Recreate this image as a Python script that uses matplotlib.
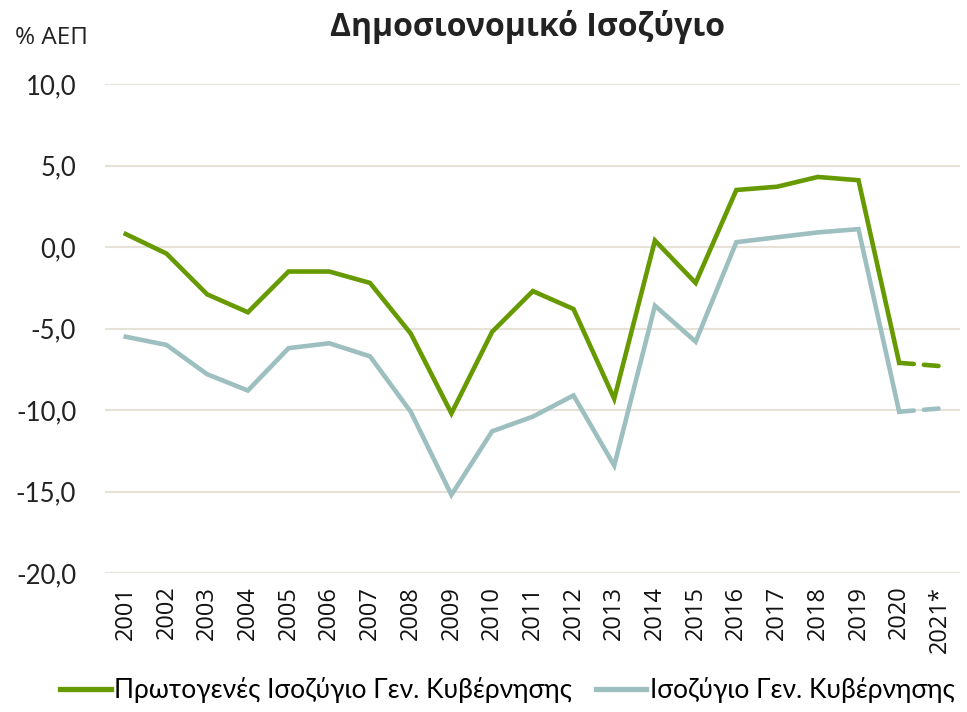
import matplotlib
matplotlib.use("Agg")
import matplotlib.pyplot as plt
from matplotlib.lines import Line2D

years = ["2001", "2002", "2003", "2004", "2005", "2006", "2007", "2008", "2009", "2010",
         "2011", "2012", "2013", "2014", "2015", "2016", "2017", "2018", "2019", "2020", "2021*"]
primary = [0.8, -0.4, -2.9, -4.0, -1.5, -1.5, -2.2, -5.3, -10.2, -5.2,
           -2.7, -3.8, -9.3, 0.4, -2.2, 3.5, 3.7, 4.3, 4.1, -7.1, -7.3]
overall = [-5.5, -6.0, -7.8, -8.8, -6.2, -5.9, -6.7, -10.1, -15.2, -11.3,
           -10.4, -9.1, -13.4, -3.6, -5.8, 0.3, 0.6, 0.9, 1.1, -10.1, -9.9]
yticks = [10, 5, 0, -5, -10, -15, -20]
names = ["Πρωτογενές Ισοζύγιο Γεν. Κυβέρνησης", "Ισοζύγιο Γεν. Κυβέρνησης"]
title = "Δημοσιονομικό Ισοζύγιο"
ylabel = "% ΑΕΠ"

green = "#669a00"
grey = "#9dbfc0"

fig = plt.figure(figsize=(9.67, 7.12), dpi=100)
ax = fig.add_axes([0.109, 0.195, 0.884, 0.687])

x = list(range(len(years)))
lw = 3.3
dash = (0, (3.2, 2.2))
ax.plot(x[:-1], primary[:-1], color=green, lw=lw, solid_joinstyle="miter", zorder=3)
ax.plot(x[-2:], primary[-2:], color=green, lw=lw, ls=dash, dash_capstyle="round", zorder=3)
ax.plot(x[:-1], overall[:-1], color=grey, lw=lw, solid_joinstyle="miter", zorder=2)
ax.plot(x[-2:], overall[-2:], color=grey, lw=lw, ls=dash, dash_capstyle="round", zorder=2)

ax.set_xlim(-0.5, len(years) - 0.5)
ax.set_ylim(-20, 10)
ax.set_yticks(yticks)
ax.set_yticklabels([f"{v:.1f}".replace(".", ",") for v in yticks], fontsize=18.5, family="Lato", color="#222222")
ax.set_xticks(x)
ax.set_xticklabels(years, rotation=90, fontsize=17, family="Open Sans", color="#111111")
ax.grid(axis="y", color="#e6e2d8", lw=1.5, zorder=0)
ax.tick_params(length=0)
ax.tick_params(axis="y", pad=21)
ax.tick_params(axis="x", pad=9)
for s in ax.spines.values():
    s.set_visible(False)

fig.text(0.545, 0.962, title, ha="center", va="center", fontsize=23, fontweight="bold",
         family="Open Sans", color="#222222")
fig.text(0.015, 0.947, ylabel, ha="left", va="center", fontsize=17.5, family="Open Sans", color="#222222")

handles = [Line2D([0], [0], color=green, lw=lw + 0.5), Line2D([0], [0], color=grey, lw=lw + 0.5)]
fig.legend(handles, names, loc="center", bbox_to_anchor=(0.525, 0.031), ncol=2, frameon=False,
           prop={"family": "Lato", "size": 19}, handlelength=1.9, handletextpad=0.15, columnspacing=0.9)

fig.savefig("out.png", dpi=100)
